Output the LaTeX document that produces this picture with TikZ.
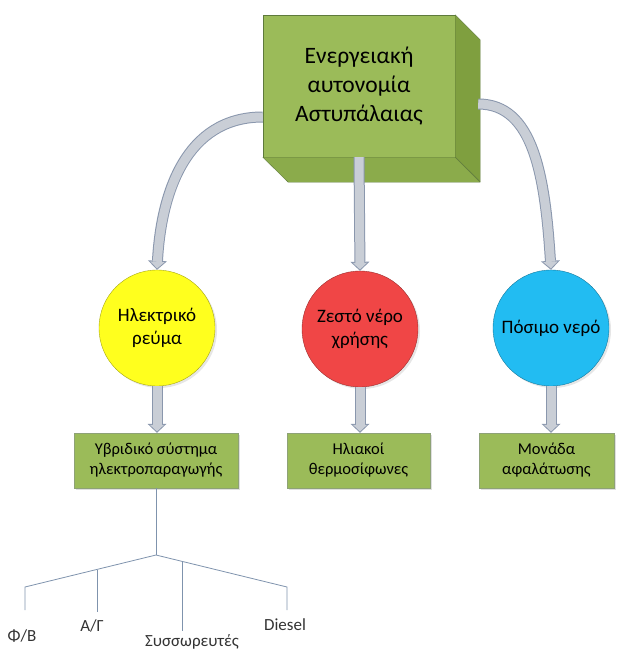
\documentclass[tikz,border=0pt]{standalone}
\usepackage{fontspec}
\setmainfont{Carlito}
\usetikzlibrary{arrows.meta,shadows}

\definecolor{boxgreen}{HTML}{9BBB59}
\definecolor{sidegreen}{HTML}{7F9F3F}
\definecolor{basegreen}{HTML}{8BAB4B}
\definecolor{boxedge}{HTML}{5E7A3C}
\definecolor{ballyellow}{HTML}{FFFF1E}
\definecolor{ballred}{HTML}{F04646}
\definecolor{ballblue}{HTML}{22BCF2}
\definecolor{pipefill}{HTML}{C9CED6}
\definecolor{pipeedge}{HTML}{8A97AD}
\definecolor{treeline}{HTML}{7F93AD}

\tikzset{
	front/.style={draw=boxedge, fill=boxgreen, minimum width=192pt, minimum height=142pt,
		inner sep=0pt, align=center, font=\fontsize{23.5}{29}\selectfont},
	side/.style={draw=boxedge, fill=sidegreen, line join=round},
	base/.style={draw=boxedge, fill=basegreen, line join=round},
	ball/.style={circle, draw=#1!65!black, fill=#1, minimum size=116pt, inner sep=0pt,
		align=center, font=\fontsize{19}{23}\selectfont,
		drop shadow={opacity=0.2, shadow xshift=2pt, shadow yshift=-2pt}},
	box/.style={draw=boxedge!70, fill=boxgreen, minimum height=55pt, inner sep=0pt,
		align=center, font=\fontsize{16.5}{20}\selectfont,
		drop shadow={opacity=0.25, shadow xshift=2pt, shadow yshift=-2pt}},
	pipeout/.style={draw=pipeedge, line width=11pt,
		-{Triangle[length=9pt,width=19pt,line width=0pt]}},
	pipein/.style={draw=pipefill, line width=9pt, shorten >=1.4pt,
		-{Triangle[length=6.6pt,width=14.2pt,line width=0pt]}},
	leaf/.style={inner sep=0pt, text=black!80, font=\fontsize{17}{20}\selectfont},
	twig/.style={draw=treeline, line width=0.8pt}
}
\newcommand{\flowpipe}[1]{\draw[pipeout] #1; \draw[pipein] #1;}

\begin{document}
\begin{tikzpicture}[x=1pt,y=-1pt]
	\useasboundingbox (0,0) rectangle (620,653);

	% main block
	\node[front] (energy) at (359,86) {Ενεργειακή\\αυτονομία\\Αστυπάλαιας};
	\filldraw[side] (energy.north east) -- ++(25,25) -- ++(0,142) -- (energy.south east) -- cycle;
	\filldraw[base] (energy.south west) -- (energy.south east) -- ++(25,25) -- ++(-192,0) -- cycle;

	% needs
	\node[ball=ballyellow] (elec)  at (157,328) {Ηλεκτρικό\\ρεύμα};
	\node[ball=ballred]    (hot)   at (360,329) {Ζεστό νέρο\\χρήσης};
	\node[ball=ballblue]   (water) at (551,328) {Πόσιμο νερό};

	% solutions
	\node[box, minimum width=164pt] (hybrid) at (156,460.5) {Υβριδικό σύστημα\\ηλεκτροπαραγωγής};
	\node[box, minimum width=143pt] (solar)  at (358.5,460.5) {Ηλιακοί\\θερμοσίφωνες};
	\node[box, minimum width=135pt] (desal)  at (546.5,460.5) {Μονάδα\\αφαλάτωσης};

	% pipes
	\flowpipe{([yshift=-31pt]energy.west) .. controls +(-78,0) and +(4,-75) .. (elec.north)}
	\flowpipe{(energy.south) -- (hot.north)}
	\flowpipe{([shift={(23,18)}]energy.east) .. controls +(55,0) and +(-6,-95) .. (water.north)}
	\flowpipe{(elec.south) -- (elec.south |- hybrid.north)}
	\flowpipe{(hot.south) -- (hot.south |- solar.north)}
	\flowpipe{(water.south) -- (water.south |- desal.north)}

	% sources
	\coordinate (hub) at (156,555);
	\coordinate (l) at (25,587);
	\coordinate (r) at (287,587);
	\coordinate (ag) at (97,569.5);
	\coordinate (bat) at (182,561.5);
	\node[leaf] (pv)     at (22,636)  {Φ/Β};
	\node[leaf] (wind)   at (92,626)  {Α/Γ};
	\node[leaf] (store)  at (192,642) {Συσσωρευτές};
	\node[leaf] (diesel) at (285,625) {Diesel};

	\draw[twig] (hybrid.south) -- (hub);
	\draw[twig] (hub) -- (l) -- (l |- 0,610);
	\draw[twig] (hub) -- (r) -- (r |- 0,610);
	\draw[twig] (ag) -- (ag |- 0,612);
	\draw[twig] (bat) -- (bat |- 0,631);
\end{tikzpicture}
\end{document}
